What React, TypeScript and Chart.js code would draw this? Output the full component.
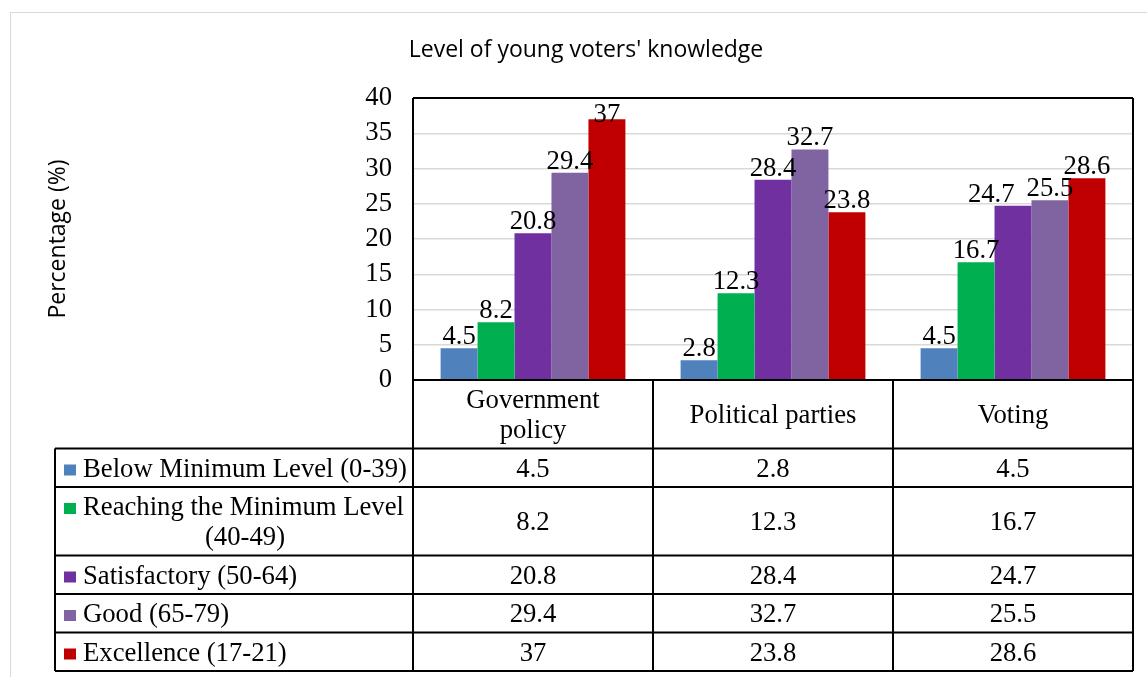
import { useEffect, useRef } from 'react';
import { Chart, registerables } from 'chart.js';

Chart.register(...registerables);

// ---- data ----
const categories: (string | string[])[] = [['Government', 'policy'], 'Political parties', 'Voting'];
const seriesNames = [
  'Below Minimum Level (0-39)',
  'Reaching the Minimum Level (40-49)',
  'Satisfactory (50-64)',
  'Good (65-79)',
  'Excellence (17-21)',
];
const belowMinimum = [4.5, 2.8, 4.5];
const reachingMinimum = [8.2, 12.3, 16.7];
const satisfactory = [20.8, 28.4, 24.7];
const good = [29.4, 32.7, 25.5];
const excellence = [37, 23.8, 28.6];
const seriesColors = ['#4F81BD', '#00B050', '#7030A0', '#8064A2', '#C00000'];
const chartTitle = "Level of young voters' knowledge";
const yAxisTitle = 'Percentage (%)';
const yMin = 0;
const yMax = 40;
const yStep = 5;

const SERIF = '"Liberation Serif", "Times New Roman", serif';
const SANS = '"Open Sans", "Noto Sans", sans-serif';
const BODY_SIZE = 26.7;
const BODY_FONT = `${BODY_SIZE}px ${SERIF}`;
const CAP_H = 17.5;
const LINE_H = 30;
const ROW_PAD = 8.5;
const TABLE_LEFT = 55;
const KEY_X = 64;
const TEXT_X = 83;

function wrapText(ctx: CanvasRenderingContext2D, text: string, maxW: number): string[] {
  const words = text.split(' ');
  const lines: string[] = [];
  let cur = '';
  for (const w of words) {
    const test = cur ? cur + ' ' + w : w;
    if (cur && ctx.measureText(test).width > maxW) {
      lines.push(cur);
      cur = w;
    } else {
      cur = test;
    }
  }
  if (cur) lines.push(cur);
  return lines;
}

const decorations = {
  id: 'decorations',
  afterDatasetsDraw(chart: any) {
    const ctx: CanvasRenderingContext2D = chart.ctx;
    const area = chart.chartArea;
    ctx.save();
    ctx.font = BODY_FONT;
    ctx.fillStyle = '#000';
    ctx.textAlign = 'center';
    ctx.textBaseline = 'alphabetic';
    const n = chart.data.labels.length;
    for (let c = 0; c < n; c++) {
      const boxes: { text: string; x: number; base: number; w: number }[] = [];
      chart.data.datasets.forEach((ds: any, i: number) => {
        const el = chart.getDatasetMeta(i).data[c];
        const text = String(ds.data[c]);
        const w = ctx.measureText(text).width;
        const base = Math.max(el.y - 4, area.top + 24);
        boxes.push({ text, x: el.x, base, w });
      });
      // move a label left when it would collide with its right-hand neighbour
      for (let i = 1; i < boxes.length; i++) {
        const a = boxes[i - 1];
        const b = boxes[i];
        const vert = Math.abs(a.base - b.base) < CAP_H + 2;
        const overlap = a.x + a.w / 2 + 12 - (b.x - b.w / 2);
        if (vert && overlap > 0) {
          a.x -= overlap;
        }
      }
      boxes.forEach((b) => ctx.fillText(b.text, b.x, b.base));
    }
    ctx.restore();
  },
  afterDraw(chart: any) {
    const ctx: CanvasRenderingContext2D = chart.ctx;
    const area = chart.chartArea;
    const n = chart.data.labels.length;
    const colW = (area.right - area.left) / n;
    ctx.save();

    // outer chart frame
    ctx.strokeStyle = '#d9d9d9';
    ctx.lineWidth = 1;
    ctx.strokeRect(10.5, 12.5, 1400, 1000);

    // chart title
    ctx.fillStyle = '#000';
    ctx.font = `23px ${SANS}`;
    ctx.textAlign = 'center';
    ctx.textBaseline = 'middle';
    ctx.fillText(chartTitle, 586, 50);

    // y axis title
    ctx.save();
    ctx.translate(58, (area.top + area.bottom) / 2);
    ctx.rotate(-Math.PI / 2);
    ctx.fillText(yAxisTitle, 0, 0);
    ctx.restore();

    // data table
    ctx.font = BODY_FONT;
    const headerLines = (chart.data.labels as (string | string[])[]).map((l) => (Array.isArray(l) ? l : [l]));
    const headerH = Math.max(...headerLines.map((l) => l.length)) * LINE_H + ROW_PAD;
    const rowLines = seriesNames.map((s) => wrapText(ctx, s, area.left - TEXT_X - 2));
    const rowHs = rowLines.map((l) => l.length * LINE_H + ROW_PAD);
    const rowTops: number[] = [];
    let y = area.bottom + headerH;
    rowHs.forEach((h) => {
      rowTops.push(y);
      y += h;
    });
    const tableBottom = y;

    ctx.textBaseline = 'alphabetic';
    // header cells
    headerLines.forEach((lines, c) => {
      const cx = area.left + colW * (c + 0.5);
      const mid = area.bottom + headerH / 2;
      lines.forEach((t, k) => {
        const ly = mid + (k - (lines.length - 1) / 2) * LINE_H;
        ctx.textAlign = 'center';
        ctx.fillText(t, cx, ly + CAP_H / 2);
      });
    });

    // series rows
    chart.data.datasets.forEach((ds: any, i: number) => {
      const top = rowTops[i];
      const mid = top + rowHs[i] / 2;
      const lines = rowLines[i];
      lines.forEach((t, k) => {
        const base = mid + (k - (lines.length - 1) / 2) * LINE_H + CAP_H / 2;
        if (k === 0) {
          ctx.fillStyle = ds.backgroundColor;
          ctx.fillRect(KEY_X, base - 12, 12, 11);
          ctx.fillStyle = '#000';
          ctx.textAlign = 'left';
          ctx.fillText(t, TEXT_X, base);
        } else {
          ctx.textAlign = 'center';
          ctx.fillText(t, (TEXT_X + area.left - 6) / 2, base);
        }
      });
      ds.data.forEach((v: number, c: number) => {
        ctx.textAlign = 'center';
        ctx.fillText(String(v), area.left + colW * (c + 0.5), mid + CAP_H / 2);
      });
    });

    // lines of plot box and table
    ctx.strokeStyle = '#000';
    ctx.lineWidth = 2;
    ctx.beginPath();
    ctx.moveTo(area.left, area.top);
    ctx.lineTo(area.right, area.top);
    ctx.moveTo(area.left, area.bottom);
    ctx.lineTo(area.right, area.bottom);
    [area.bottom + headerH, ...rowTops.slice(1), tableBottom].forEach((ry) => {
      ctx.moveTo(TABLE_LEFT, ry);
      ctx.lineTo(area.right, ry);
    });
    ctx.moveTo(TABLE_LEFT, area.bottom + headerH);
    ctx.lineTo(TABLE_LEFT, tableBottom);
    ctx.moveTo(area.left, area.top);
    ctx.lineTo(area.left, tableBottom);
    ctx.moveTo(area.right, area.top);
    ctx.lineTo(area.right, tableBottom);
    for (let c = 1; c < n; c++) {
      const cx = area.left + colW * c;
      ctx.moveTo(cx, area.bottom);
      ctx.lineTo(cx, tableBottom);
    }
    ctx.stroke();
    ctx.restore();
  },
};

export default function App() {
  const ref = useRef<HTMLCanvasElement>(null);

  useEffect(() => {
    const series = [belowMinimum, reachingMinimum, satisfactory, good, excellence];
    const chart = new Chart(ref.current!, {
      type: 'bar',
      data: {
        labels: categories,
        datasets: series.map((d, i) => ({
          label: seriesNames[i],
          data: d,
          backgroundColor: seriesColors[i],
          borderWidth: 0,
          barPercentage: 1,
          categoryPercentage: 0.77,
        })),
      },
      options: {
        animation: false,
        responsive: false,
        devicePixelRatio: 1,
        layout: { padding: { left: 0, top: 98, right: 14, bottom: 297 } },
        plugins: {
          legend: { display: false },
          tooltip: { enabled: false },
          title: { display: false },
        },
        scales: {
          x: { display: false },
          y: {
            min: yMin,
            max: yMax,
            ticks: {
              stepSize: yStep,
              color: '#000',
              padding: 21,
              font: { family: SERIF, size: BODY_SIZE },
            },
            grid: {
              drawTicks: false,
              color: (c: any) => (c.tick && (c.tick.value === yMin || c.tick.value === yMax) ? 'rgba(0,0,0,0)' : '#d9d9d9'),
              lineWidth: 1.5,
            },
            border: { display: false },
            afterFit: (scale: any) => {
              scale.width = 413;
            },
          },
        },
      },
      plugins: [decorations],
    });
    return () => chart.destroy();
  }, []);

  return (
    <div style={{ position: 'absolute', left: 0, top: 0, width: 1147, height: 677, background: '#fff' }}>
      <canvas ref={ref} width={1147} height={677} style={{ display: 'block' }} />
    </div>
  );
}
